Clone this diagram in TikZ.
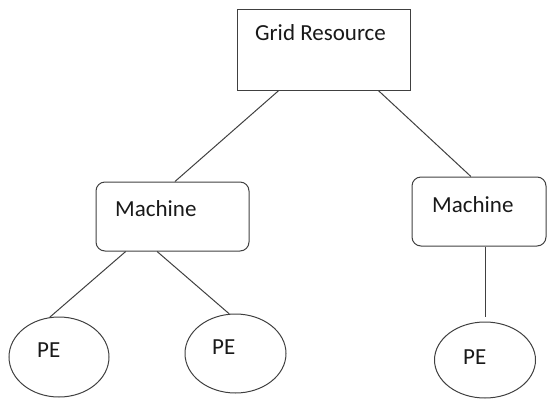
\documentclass[tikz,border=0pt]{standalone}
\usepackage{fontspec}
\setmainfont{Carlito}
\usetikzlibrary{calc, shapes.geometric}

\begin{document}
\begin{tikzpicture}[x=1pt, y=-1pt,
					gridbox/.style={
						draw=black!75,
						rectangle,
						line width=1pt,
						minimum width=173pt,
						minimum height=81pt
					},
					machinebox/.style={
						draw=black!75,
						rectangle,
						rounded corners=9pt,
						line width=1pt
					},
					pebox/.style={
						draw=black!75,
						ellipse,
						line width=1pt,
						inner sep=0pt
					},
					tag/.style={
						anchor=base west,
						inner sep=0pt,
						text=black!90,
						font=\fontsize{23}{27}\selectfont
					},
					link/.style={line width=1pt, draw=black!75}
					]
					\useasboundingbox (0,0) rectangle (549,400);
					
					% Boxes
					\node (grid) [gridbox] at (323.5, 49.5) {};
					\node (machineL) [machinebox, minimum width=153pt, minimum height=69pt] at (172.5, 216.5) {};
					\node (machineR) [machinebox, minimum width=134pt, minimum height=69pt] at (479, 211.5) {};
					
					% Processing elements
					\node (peA) [pebox, minimum width=100pt, minimum height=80pt] at (59, 357) {};
					\node (peB) [pebox, minimum width=101pt, minimum height=79pt] at (235.5, 353.5) {};
					\node (peC) [pebox, minimum width=101pt, minimum height=76pt] at (485, 360) {};
					
					% Texts
					\node (gridtext) [tag] at (255, 40) {Grid Resource};
					\node (machineLtext) [tag] at (115, 216) {Machine};
					\node (machineRtext) [tag] at (432, 212) {Machine};
					\node (peAtext) [tag] at (37, 357) {PE};
					\node (peBtext) [tag] at (212, 354) {PE};
					\node (peCtext) [tag] at (463, 364) {PE};
					
					% Links
					\draw [link] ($(grid.south west)!0.243!(grid.south east)$) -- ($(machineL.north west)!0.516!(machineL.north east)$);
					\draw [link] ($(grid.south west)!0.815!(grid.south east)$) -- ($(machineR.north west)!0.44!(machineR.north east)$);
					\draw [link] ($(machineL.south west)!0.196!(machineL.south east)$) -- (peA.103);
					\draw [link] ($(machineL.south west)!0.40!(machineL.south east)$) -- (peB.99);
					\draw [link] (peC.north |- machineR.south) -- ($(peC.north)+(0,-5)$);
					
				\end{tikzpicture}
\end{document}
